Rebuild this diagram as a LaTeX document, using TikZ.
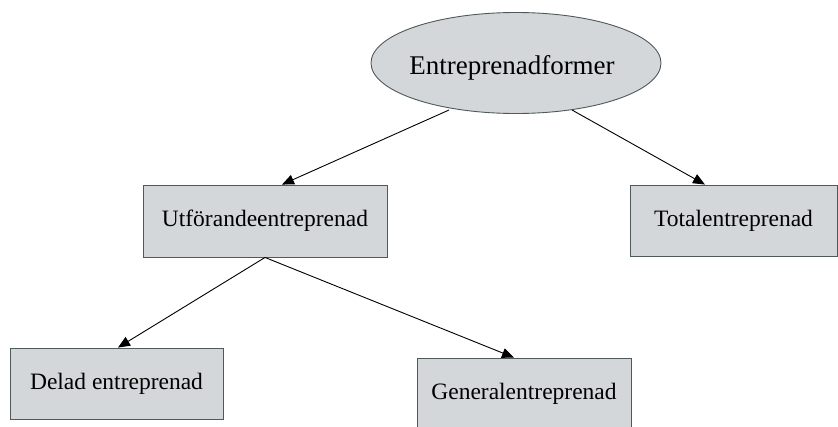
\documentclass[tikz,border=0pt]{standalone}
\usepackage{fontspec}
\setmainfont{Liberation Serif}
\usetikzlibrary{arrows.meta,calc,shapes.geometric}
\definecolor{boxfill}{HTML}{D4D7D9}
\definecolor{boxline}{HTML}{4E5A5A}
\begin{document}
\begin{tikzpicture}[x=1pt,y=-1pt,
  box/.style={draw=boxline,fill=boxfill,line width=0.9pt,rectangle,inner sep=0pt,font=\fontsize{23.5}{28}\selectfont},
  ell/.style={draw=boxline,fill=boxfill,line width=0.9pt,ellipse,inner sep=0pt,minimum width=290pt,minimum height=101pt},
  arr/.style={line width=0.9pt,-{Triangle[length=12pt,width=10pt]}}]
\useasboundingbox (0,0) rectangle (838,426);
\node[ell] (e) at (516,63) {};
\node[font=\fontsize{27}{32}\selectfont,inner sep=0pt] (et) at (512,68) {Entreprenadformer};
\node[box,minimum width=244pt,minimum height=72pt] (u) at (265,221) {Utförandeentreprenad};
\node[box,minimum width=207pt,minimum height=71pt] (t) at (733.5,220.5) {Totalentreprenad};
\node[box,minimum width=213pt,minimum height=71pt] (d) at (116.5,383.5) {Delad entreprenad};
\node[box,minimum width=214pt,minimum height=71pt] (g) at (524,393.5) {Generalentreprenad};
\coordinate (e1) at ($(e.center)+(-67,47)$);
\coordinate (e2) at ($(e.center)+(56,47)$);
\draw[arr] (e1) -- ($(u.north)+(17,0)$);
\draw[arr] (e2) -- ($(t.north)+(-28.5,0)$);
\draw[arr] (u.south) -- ($(d.north)+(1.5,0)$);
\draw[arr] (u.south) -- ($(g.north)+(-10,0)$);
\end{tikzpicture}
\end{document}
